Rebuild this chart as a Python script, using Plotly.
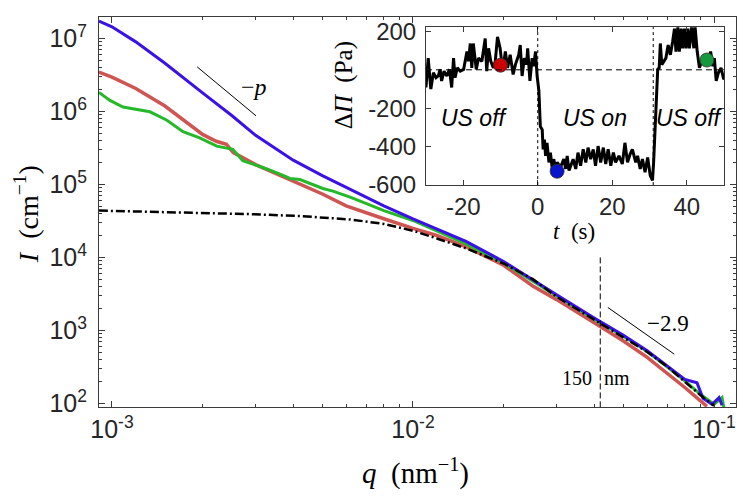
import plotly.graph_objects as go

# ---- main panel: I(q) ----
q_blue = [9.05e-4, 1.0e-3, 1.2e-3, 1.5e-3, 2.0e-3, 2.5e-3, 3.0e-3, 4.0e-3, 5.0e-3, 6.0e-3,
          7.0e-3, 8.0e-3, 1.0e-2, 1.2e-2, 1.5e-2, 2.0e-2, 2.5e-2, 3.0e-2, 4.0e-2, 5.0e-2,
          6.0e-2, 7.0e-2, 8.0e-2, 0.0878, 0.0919, 0.0985, 0.1039, 0.1063]
I_blue = [1.73e7, 1.45e7, 9.0e6, 4.58e6, 1.80e6, 8.8e5, 4.71e5, 2.15e5, 1.32e5, 9.2e4,
          6.7e4, 5.1e4, 3.37e4, 2.43e4, 1.66e4, 8.8e3, 4.89e3, 3.08e3, 1.48e3, 859,
          526, 321, 213, 191, 117, 97, 120, 94]

q_red = [9.05e-4, 1.0e-3, 1.2e-3, 1.5e-3, 2.0e-3, 2.22e-3, 2.4e-3, 2.53e-3, 3.0e-3, 4.0e-3,
         5.0e-3, 6.0e-3, 7.0e-3, 8.0e-3, 1.0e-2, 1.2e-2, 1.5e-2, 2.0e-2, 2.5e-2, 3.0e-2,
         4.0e-2, 5.0e-2, 6.0e-2, 7.0e-2, 8.0e-2, 9.0e-2, 0.0947]
I_red = [3.47e6, 2.96e6, 2.07e6, 1.19e6, 4.85e5, 3.91e5, 3.56e5, 2.73e5, 1.87e5, 1.1e5,
         7.4e4, 5.1e4, 4.07e4, 3.39e4, 2.5e4, 2.0e4, 1.4e4, 7.8e3, 4.06e3, 2.64e3,
         1.27e3, 714, 427, 260, 165, 109, 91]

q_green = [9.05e-4, 9.85e-4, 1.088e-3, 1.175e-3, 1.337e-3, 1.523e-3, 1.722e-3, 1.956e-3, 2.23e-3, 2.52e-3,
           2.72e-3, 2.94e-3, 3.27e-3, 3.70e-3, 3.90e-3, 4.21e-3, 4.80e-3, 5.02e-3, 5.42e-3, 6.18e-3,
           7.04e-3, 8.0e-3, 1.0e-2, 1.2e-2, 1.5e-2, 2.0e-2, 2.5e-2, 3.0e-2, 4.0e-2, 5.0e-2,
           6.0e-2, 7.0e-2, 8.0e-2, 9.0e-2, 0.1, 0.1063, 0.108]
I_green = [1.83e6, 1.42e6, 1.15e6, 1.09e6, 9.9e5, 7.6e5, 5.3e5, 4.34e5, 3.35e5, 3.03e5,
           2.11e5, 1.90e5, 1.63e5, 1.33e5, 1.21e5, 1.17e5, 9.3e4, 8.8e4, 8.1e4, 6.7e4,
           5.4e4, 4.38e4, 3.21e4, 2.29e4, 1.53e4, 8.4e3, 4.74e3, 2.94e3, 1.42e3, 829,
           513, 313, 203, 134, 97, 120, 85]

q_fit = [9.05e-4, 1.34e-3, 1.96e-3, 2.87e-3, 4.21e-3, 6.18e-3, 8.0e-3, 1.0e-2, 1.2e-2, 1.5e-2,
         2.0e-2, 2.5e-2, 3.0e-2, 4.0e-2, 5.0e-2, 6.0e-2, 7.0e-2, 8.0e-2, 9.0e-2, 0.1]
I_fit = [4.38e4, 4.24e4, 4.07e4, 3.92e4, 3.69e4, 3.31e4, 2.88e4, 2.32e4, 1.82e4, 1.33e4,
         8.26e3, 5.04e3, 2.89e3, 1.40e3, 817, 506, 318, 195, 130, 93]

# guide lines
slope_p_q = [1.92e-3, 3.01e-3]
slope_p_I = [4.08e6, 8.73e5]
slope_29_q = [0.0444, 0.0738]
slope_29_I = [2061, 472]
q_150nm = 2 * 3.14159265 / 150
cut_I = [1e4, 80]

# ---- inset: pressure difference vs time ----
t_s = [-30.0, -29.4, -28.7, -28.0, -27.3, -26.7, -26.2, -25.8, -25.15, -24.4,
       -23.7, -23.1, -22.6, -22.2, -21.6, -20.8, -19.9, -19.0, -18.6, -18.1,
       -17.7, -17.3, -16.5, -15.9, -15.0, -14.1, -13.7, -13.2, -12.6, -11.9,
       -11.4, -10.8, -10.1, -9.4, -8.7, -8.1, -7.4, -6.6, -6.0, -5.1,
       -4.7, -4.2, -3.6, -3.0, -2.7, -2.1, -1.5, -1.1, -0.6, -0.17,
       0.3, 0.7, 1.2, 1.45, 1.8, 2.1, 2.5, 3.0, 3.4, 3.9,
       4.3, 4.8, 5.2, 6.1, 7.0, 7.5, 7.9, 8.4, 9.5, 10.2,
       10.8, 11.5, 12.2, 12.9, 13.5, 14.2, 14.9, 15.5, 16.2, 16.9,
       17.6, 18.25, 18.9, 19.6, 20.3, 20.9, 21.8, 22.7, 23.4, 24.1,
       24.8, 25.4, 26.3, 26.8, 27.5, 28.1, 28.8, 29.5, 30.2, 30.8,
       31.1, 31.5, 31.8, 32.2, 32.6, 32.9, 33.3, 33.8, 34.4, 35.0,
       35.6, 36.2, 36.7, 37.1, 37.6, 38.0, 38.5, 38.9, 39.4, 39.8,
       40.3, 40.7, 41.3, 41.9, 42.2, 42.8, 43.4, 44.0, 44.8, 45.5,
       46.4, 47.0, 47.4, 47.9, 48.5, 49.2, 49.9, 50.6]
dPi_pa = [-92, 61, -100, -15, -41, -32, 2, -58, -7, -32,
          2, -92, 61, -41, 10, -7, 2, 95, 44, 137,
          10, 137, 2, 61, 44, 163, -7, 112, 44, 10,
          44, 171, 112, -7, 95, 10, 78, -24, 27, 78,
          129, -32, 61, 27, 112, -58, 61, 19, 95, -32,
          -109, -295, -312, -414, -363, -448, -380, -482, -431, -516,
          -465, -516, -482, -507, -465, -516, -448, -524, -465, -516,
          -431, -499, -414, -482, -405, -465, -414, -499, -397, -482,
          -405, -490, -414, -499, -431, -482, -448, -490, -380, -482,
          -439, -414, -482, -448, -516, -465, -533, -456, -550, -575,
          -482, -295, -126, 2, 10, 137, 27, 44, 61, 129,
          78, 146, 214, 95, 222, 95, 214, 112, 214, 112,
          214, 112, 222, 112, 231, 95, 10, 44, 78, 27,
          95, 19, 61, -58, -15, 10, -49, -32]

t_marks = [-10, 5.2, 45.4]
dPi_marks = [24, -528, 51]
mark_colors = ["#cc0000", "#0a14c8", "#149a3c"]
switch_times = [0, 31]

axc = "#3a3a3a"
txt = "#262626"
sans = "Liberation Sans, Arial, sans-serif"
serif = "Liberation Serif, Times New Roman, serif"

fig = go.Figure()

fig.add_trace(go.Scatter(x=q_red, y=I_red, mode="lines", line=dict(color="#cf5552", width=3.5)))
fig.add_trace(go.Scatter(x=q_green, y=I_green, mode="lines", line=dict(color="#25b92a", width=3)))
fig.add_trace(go.Scatter(x=q_blue, y=I_blue, mode="lines", line=dict(color="#3a12e6", width=3)))
fig.add_trace(go.Scatter(x=q_fit, y=I_fit, mode="lines",
                         line=dict(color="black", width=2.5, dash="9px,3px,2px,3px")))

fig.add_trace(go.Scatter(x=slope_p_q, y=slope_p_I, mode="lines", line=dict(color="black", width=1)))
fig.add_trace(go.Scatter(x=slope_29_q, y=slope_29_I, mode="lines", line=dict(color="black", width=1)))
fig.add_trace(go.Scatter(x=[q_150nm, q_150nm], y=cut_I, mode="lines",
                         line=dict(color="black", width=1, dash="6px,3px")))

# inset
fig.add_trace(go.Scatter(x=t_s, y=dPi_pa, mode="lines", line=dict(color="black", width=3),
                         xaxis="x2", yaxis="y2"))
fig.add_trace(go.Scatter(x=t_marks, y=dPi_marks, mode="markers", xaxis="x2", yaxis="y2",
                         marker=dict(color=mark_colors, size=14, line=dict(color="#333", width=0.8))))

for ts in switch_times:
    fig.add_shape(type="line", xref="x2", yref="y2 domain", x0=ts, x1=ts, y0=0, y1=1,
                  line=dict(color="black", width=1, dash="dot"))
fig.add_shape(type="line", xref="x2 domain", yref="y2", x0=0, x1=1, y0=0, y1=0,
              line=dict(color="black", width=1, dash="6px,4px"))

minor_x = [k * 10.0 ** e for e in (-4, -3, -2, -1) for k in range(2, 10)]
minor_y = [k * 10.0 ** e for e in range(1, 8) for k in range(2, 10)]

axis_common = dict(showgrid=False, zeroline=False, showline=True, linecolor=axc, linewidth=1,
                   mirror="ticks", ticks="inside", tickcolor=axc, ticklen=6,
                   tickfont=dict(family=sans, size=25, color=txt))
inset_common = {**axis_common, "ticklen": 5, "tickfont": dict(family=sans, size=24, color=txt)}

# the page body adds an 8px offset, so the figure is 8px smaller and shifted
fig.update_layout(
    width=740, height=496,
    margin=dict(l=91, r=12, t=0, b=97),
    paper_bgcolor="white", plot_bgcolor="white",
    showlegend=False,
    xaxis=dict(type="log", range=[-3.043, -0.927],
               tickvals=[1e-3, 1e-2, 1e-1],
               ticktext=["10<sup>-3</sup>", "10<sup>-2</sup>", "10<sup>-1</sup>"],
               minor=dict(tickvals=minor_x, ticks="inside", ticklen=3, tickcolor=axc),
               **axis_common),
    yaxis=dict(type="log", range=[1.95, 7.295],
               tickvals=[1e2, 1e3, 1e4, 1e5, 1e6, 1e7],
               ticktext=["10<sup>%d</sup>" % k for k in range(2, 8)],
               minor=dict(tickvals=minor_y, ticks="inside", ticklen=3, tickcolor=axc),
               ticklabelstandoff=6,
               **axis_common),
    xaxis2=dict(domain=[0.5133, 0.9812], anchor="y2", range=[-30, 50],
                tickvals=[-20, 0, 20, 40], ticktext=["-20", "0", "20", "40"],
                **inset_common),
    yaxis2=dict(domain=[0.569, 0.974], anchor="x2", range=[-600, 222],
                tickvals=[-600, -400, -200, 0, 200],
                ticktext=["-600", "-400", "-200", "0", "200"],
                ticklabelstandoff=4,
                **inset_common),
)

ann = [
    dict(x=0.2433, y=0.82, text="\u2212<i>p</i>", font=dict(family=serif, size=24)),
    dict(x=0.8933, y=0.2143, text="\u22122.9", font=dict(family=serif, size=23)),
    dict(x=0.7771, y=0.0739, text="150", xanchor="right", font=dict(family=serif, size=20)),
    dict(x=0.7896, y=0.0739, text="nm", xanchor="left", font=dict(family=serif, size=20)),
    dict(x=0.4976, y=-0.165, text="<i>q</i>\u2002(nm<sup>\u22121</sup>)", font=dict(family=serif, size=29)),
    dict(x=-0.1135, y=0.4937, text="<i>I</i>\u2002(cm<sup>\u22121</sup>)", textangle=-90,
         font=dict(family=serif, size=28)),
    dict(x=0.386, y=0.8246, text="\u0394<i>\u03a0</i>\u2002(Pa)", textangle=-90, font=dict(family=serif, size=25)),
    dict(x=0.7457, y=0.451, text="<i>t</i>\u2002(s)", font=dict(family=serif, size=23)),
]
for a in ann:
    opts = dict(xanchor="center", yanchor="middle")
    opts.update(a)
    fig.add_annotation(xref="paper", yref="paper", showarrow=False, font_color="black", **opts)

for tx, label in [(-17.1, "US off"), (15.5, "US on"), (40.6, "US off")]:
    fig.add_annotation(x=tx, y=-252, xref="x2", yref="y2", text="<i>%s</i>" % label, showarrow=False,
                       font=dict(family=sans, size=23, color="black"))

fig.write_html("out.html")
